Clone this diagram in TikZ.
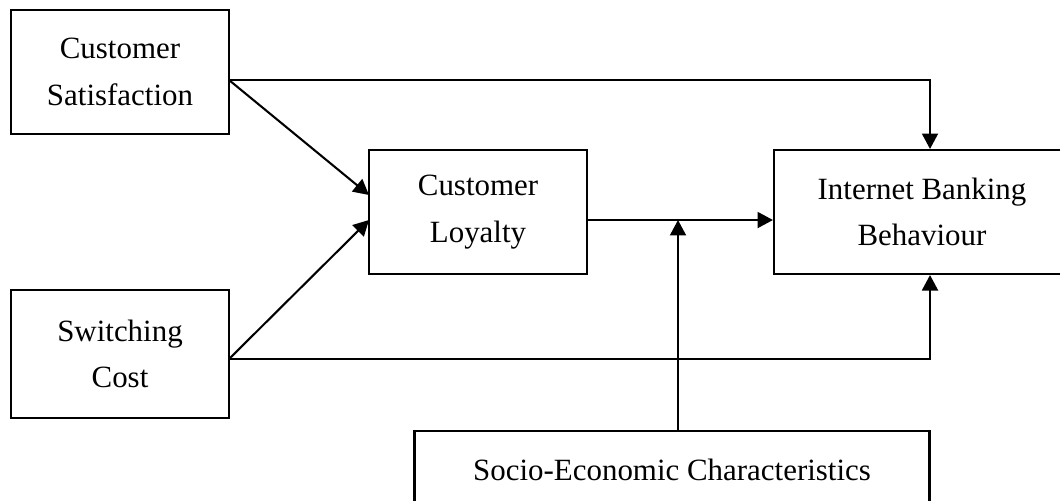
\documentclass[tikz,border=0pt]{standalone}
\usepackage{fontspec}
\setmainfont{Liberation Serif}
\usetikzlibrary{arrows.meta}

\tikzset{
    box/.style={draw, line width=0.8pt, minimum width=#1, inner sep=0pt,
        align=center, font=\fontsize{12}{18}\selectfont},
    arr/.style={line width=0.8pt, -{Triangle[length=6pt,width=6.2pt]}},
    ln/.style={line width=0.8pt}
}

\begin{document}
\begin{tikzpicture}[x=0.388pt,y=-0.388pt]
    \useasboundingbox (0,0) rectangle (1060,500);
    \clip (0,0) rectangle (1060,500);
    % boxes
    \node[box=218*0.388pt, minimum height=124*0.388pt] (cs) at (120,72) {Customer\\Satisfaction};
    \node[box=218*0.388pt, minimum height=128*0.388pt] (sc) at (120,354) {Switching\\Cost};
    \node[box=218*0.388pt, minimum height=124*0.388pt] (cl) at (478,212) {Customer\\Loyalty};
    \node[box=296*0.388pt, minimum height=124*0.388pt] (ibb) at (922,212) {Internet Banking\\Behaviour};
    \node[box=515*0.388pt, minimum height=78*0.388pt] (sec) at (672,470) {Socio-Economic Characteristics};
    % connector points
    \coordinate (cs-out) at (229,80);
    \coordinate (sc-out) at (229,359);
    \coordinate (cl-in1) at (369,195);
    \coordinate (cl-in2) at (369,220);
    \coordinate (j) at (678,220);
    \coordinate (ibb-x) at (930,0);
    % arrows
    \draw[arr] (cs-out) -- (cl-in1);
    \draw[arr] (sc-out) -- (cl-in2);
    \draw[arr] (cs-out) -| (ibb.north -| ibb-x);
    \draw[arr] (sc-out) -| (ibb.south -| ibb-x);
    \draw[arr] (cl.east |- j) -- (ibb.west |- j);
    \draw[arr] (sec.north -| j) -- (j);
\end{tikzpicture}
\end{document}
